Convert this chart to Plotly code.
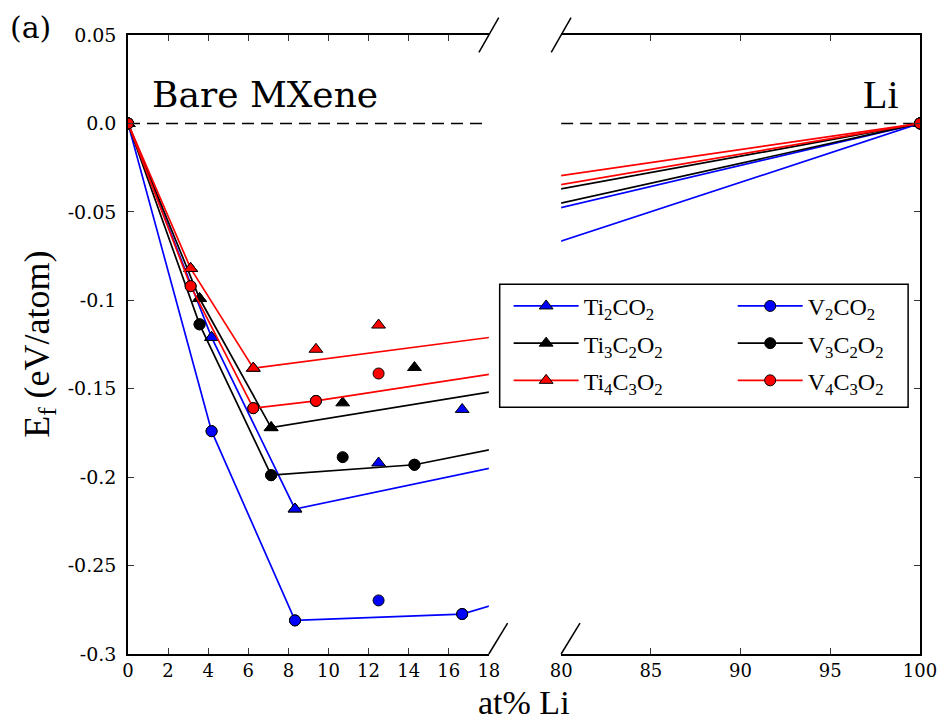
import plotly.graph_objects as go

# ---------------- data ----------------
series_names = ["Ti<sub>2</sub>CO<sub>2</sub>", "Ti<sub>3</sub>C<sub>2</sub>O<sub>2</sub>",
                "Ti<sub>4</sub>C<sub>3</sub>O<sub>2</sub>", "V<sub>2</sub>CO<sub>2</sub>",
                "V<sub>3</sub>C<sub>2</sub>O<sub>2</sub>", "V<sub>4</sub>C<sub>3</sub>O<sub>2</sub>"]

ti2_x = [0, 4.17, 8.33, 12.5, 16.67, 100]
ti2_y = [0, -0.121, -0.218, -0.192, -0.1617, 0]
ti3_x = [0, 3.57, 7.14, 10.71, 14.29, 100]
ti3_y = [0, -0.099, -0.172, -0.158, -0.138, 0]
ti4_x = [0, 3.125, 6.25, 9.375, 12.5, 100]
ti4_y = [0, -0.082, -0.1384, -0.1277, -0.114, 0]
v2_x = [0, 4.17, 8.33, 12.5, 16.67, 100]
v2_y = [0, -0.174, -0.281, -0.2697, -0.2774, 0]
v3_x = [0, 3.57, 7.14, 10.71, 14.29, 100]
v3_y = [0, -0.1136, -0.1989, -0.1887, -0.193, 0]
v4_x = [0, 3.125, 6.25, 9.375, 12.5, 100]
v4_y = [0, -0.092, -0.161, -0.1569, -0.1414, 0]

series_x = [ti2_x, ti3_x, ti4_x, v2_x, v3_x, v4_x]
series_y = [ti2_y, ti3_y, ti4_y, v2_y, v3_y, v4_y]
colors = ["#0000ff", "#000000", "#ff0000", "#0000ff", "#000000", "#ff0000"]
symbols = ["triangle-up"] * 3 + ["circle"] * 3
legends = ["legend"] * 3 + ["legend2"] * 3

left_ticks = [0, 2, 4, 6, 8, 10, 12, 14, 16, 18]
right_ticks = [80, 85, 90, 95, 100]
y_ticks = [0.05, 0.0, -0.05, -0.1, -0.15, -0.2, -0.25, -0.3]
y_ticktext = ["0.05", "0.0", "-0.05", "-0.1", "-0.15", "-0.2", "-0.25", "-0.3"]


def lower_hull(xs, ys):
    pts = sorted(zip(xs, ys))
    hull = []
    for p in pts:
        while len(hull) >= 2:
            o, a = hull[-2], hull[-1]
            cr = (a[0] - o[0]) * (p[1] - o[1]) - (a[1] - o[1]) * (p[0] - o[0])
            if cr <= 0:
                hull.pop()
            else:
                break
        hull.append(p)
    return [h[0] for h in hull], [h[1] for h in hull]


fig = go.Figure()
for i in range(6):
    hx, hy = lower_hull(series_x[i], series_y[i])
    for k, (xa, ya) in enumerate([("x", "y"), ("x2", "y2")]):
        fig.add_trace(go.Scatter(
            x=hx, y=hy, xaxis=xa, yaxis=ya, mode="lines+markers",
            name=series_names[i], legendgroup="g%d" % i, legend=legends[i],
            showlegend=(k == 0),
            line=dict(color=colors[i], width=1.7),
            marker=dict(symbol=symbols[i], size=12 if i < 3 else 11, color=colors[i],
                        line=dict(color="black", width=1))))
        fig.add_trace(go.Scatter(
            x=series_x[i], y=series_y[i], xaxis=xa, yaxis=ya, mode="markers",
            legendgroup="g%d" % i, showlegend=False, hoverinfo="skip",
            marker=dict(symbol=symbols[i], size=12 if i < 3 else 11, color=colors[i],
                        line=dict(color="black", width=1))))

axis_common = dict(showline=True, linecolor="black", linewidth=1.5, ticks="inside",
                   ticklen=6, tickwidth=1, tickcolor="#333", showgrid=False, zeroline=False,
                   tickfont=dict(family="DejaVu Serif", size=18, color="black"))

fig.update_layout(
    width=949, height=723,
    margin=dict(l=128, r=22, t=34.5, b=69),
    plot_bgcolor="white", paper_bgcolor="white",
    showlegend=True,
    xaxis=dict(domain=[0, 0.4556], range=[0, 18], tickvals=left_ticks, mirror="ticks",
               anchor="y", **axis_common),
    xaxis2=dict(domain=[0.5469, 1], range=[80, 100], tickvals=right_ticks, mirror="ticks",
                anchor="y2", **axis_common),
    yaxis=dict(range=[-0.3, 0.05], tickvals=y_ticks, ticktext=y_ticktext, anchor="x",
               ticklabelstandoff=6,
               **{**axis_common, "tickfont": dict(family="DejaVu Serif", size=19, color="black")}),
    yaxis2=dict(range=[-0.3, 0.05], tickvals=y_ticks, anchor="x2", side="right",
                showticklabels=False, matches="y", **axis_common),
    legend=dict(x=0.4806, y=0.598, xanchor="left", yanchor="top", bgcolor="rgba(0,0,0,0)",
                itemwidth=65, traceorder="grouped", tracegroupgap=3,
                font=dict(family="Liberation Serif", size=24, color="black")),
    legend2=dict(x=0.7635, y=0.598, xanchor="left", yanchor="top", bgcolor="rgba(0,0,0,0)",
                 itemwidth=65, traceorder="grouped", tracegroupgap=3,
                 font=dict(family="Liberation Serif", size=24, color="black")),
)

shapes = []
# zero reference lines
for xr, yr in [("x domain", "y"), ("x2 domain", "y2")]:
    shapes.append(dict(type="line", xref=xr, yref=yr, x0=0, x1=1, y0=0, y1=0,
                       line=dict(color="black", width=1.5, dash="12px,7px"), layer="below"))
# axis break marks
for (x0, y0, x1, y1) in [(0.4556, 0, 0.4793, 0.05), (0.4431, 0.9718, 0.4681, 1.0282),
                         (0.5469, 0, 0.5707, 0.05), (0.5344, 0.9718, 0.5594, 1.0282)]:
    shapes.append(dict(type="line", xref="paper", yref="paper", x0=x0, y0=y0, x1=x1, y1=y1,
                       line=dict(color="black", width=1.5)))
# legend frame
shapes.append(dict(type="rect", xref="paper", yref="paper", x0=0.4693, x1=0.985,
                   y0=0.3987, y1=0.5973, line=dict(color="black", width=1.5),
                   fillcolor="rgba(0,0,0,0)"))
fig.update_layout(shapes=shapes)

fig.add_annotation(text="Bare MXene", xref="paper", yref="paper", x=0.0275, y=0.9033,
                   xanchor="left", yanchor="middle", showarrow=False,
                   font=dict(family="DejaVu Serif", size=36, color="black"))
fig.add_annotation(text="Li", xref="paper", yref="paper", x=0.976, y=0.9033,
                   xanchor="right", yanchor="middle", showarrow=False,
                   font=dict(family="Liberation Serif", size=40, color="black"))
fig.add_annotation(text="(a)", xref="paper", yref="paper", x=-0.152, y=1.012,
                   xanchor="left", yanchor="middle", showarrow=False,
                   font=dict(family="DejaVu Serif", size=30, color="black"))
fig.add_annotation(text="E<sub>f</sub> (eV/atom)", xref="paper", yref="paper", x=-0.112, y=0.5,
                   xanchor="center", yanchor="middle", textangle=-90, showarrow=False,
                   font=dict(family="Liberation Serif", size=36, color="black"))
fig.add_annotation(text="at% Li", xref="paper", yref="paper", x=0.5, y=-0.079,
                   xanchor="center", yanchor="middle", showarrow=False,
                   font=dict(family="Liberation Serif", size=34, color="black"))

fig.write_html("out.html")
